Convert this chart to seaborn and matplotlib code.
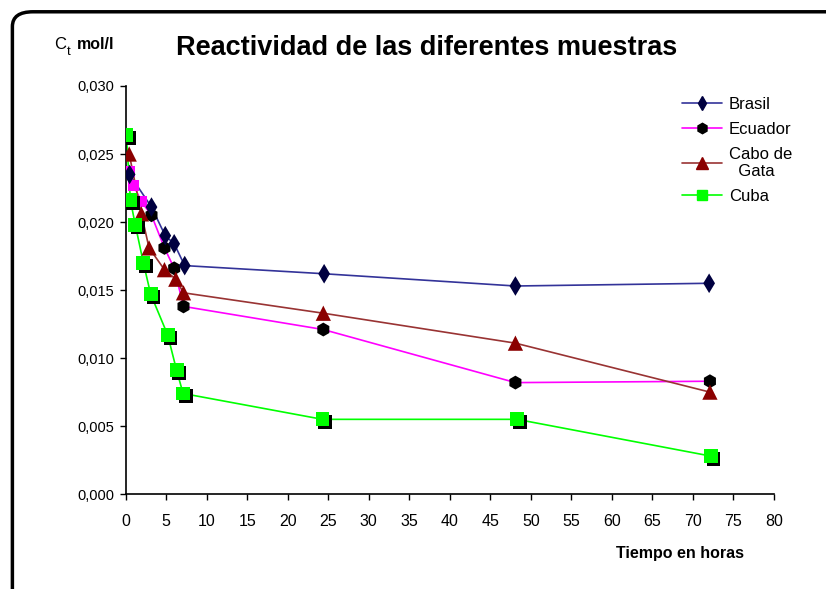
import numpy as np
import pandas as pd
import seaborn as sns
import matplotlib.pyplot as plt
import matplotlib.patheffects as pe
from matplotlib.patches import FancyBboxPatch
from matplotlib.ticker import FuncFormatter

# values (time in hours, concentration mol/l)
brasil_t = [0.5, 3.2, 4.9, 6.0, 7.3, 24.5, 48.1, 72.0]
brasil_c = [0.0235, 0.0211, 0.0190, 0.0184, 0.0168, 0.0162, 0.0153, 0.0155]

ecuador_t = [0.45, 1.0, 1.95, 3.2, 4.8, 6.0, 7.15, 24.4, 48.1, 72.1]
ecuador_c = [0.0237, 0.0227, 0.0215, 0.0205, 0.0181, 0.0166, 0.0138, 0.0121, 0.0082, 0.0083]
ecuador_n_square = 3  # first points drawn as pink squares in the original

cabo_t = [0.45, 1.95, 2.9, 4.8, 6.2, 7.15, 24.4, 48.1, 72.1]
cabo_c = [0.0250, 0.0206, 0.0181, 0.0165, 0.0158, 0.0148, 0.0133, 0.0111, 0.0075]

cuba_t = [0.1, 0.6, 1.2, 2.2, 3.1, 5.2, 6.3, 7.1, 24.3, 48.3, 72.2]
cuba_c = [0.0264, 0.0216, 0.0198, 0.0170, 0.0147, 0.0117, 0.0091, 0.0074, 0.0055, 0.0055, 0.0028]

labels = ["Brasil", "Ecuador", "Cabo de\n  Gata", "Cuba"]
x_ticks = list(range(0, 85, 5))
y_ticks = [0.0, 0.005, 0.010, 0.015, 0.020, 0.025, 0.030]

sns.set_style("white")
plt.rcParams['font.family'] = ['Liberation Sans', 'DejaVu Sans']
plt.rcParams['text.color'] = 'black'
plt.rcParams['xtick.color'] = 'black'
plt.rcParams['ytick.color'] = 'black'

fig = plt.figure(figsize=(8.26, 5.89), dpi=100)
ax = fig.add_axes([0.152, 0.161, 0.785, 0.693])

series = [
    (brasil_t, brasil_c, "#333399", "#000040", "d", 10),
    (ecuador_t, ecuador_c, "#ff00ff", "#000000", "h", 10),
    (cabo_t, cabo_c, "#993333", "#8b0000", "^", 11),
    (cuba_t, cuba_c, "#00ff00", "#00ff00", "s", 10),
]

shadow = [pe.withSimplePatchShadow(offset=(2, -2), shadow_rgbFace="black", alpha=1.0)]

handles = []
for (t, c, lc, mc, mk, ms), lab in zip(series, labels):
    df = pd.DataFrame({"t": t, "c": c})
    sns.lineplot(data=df, x="t", y="c", color=lc, lw=1.2, ax=ax, sort=False,
                 estimator=None)
    if mk == "h":
        sq = df.iloc[:ecuador_n_square]
        rest = df.iloc[ecuador_n_square:]
        sns.scatterplot(data=sq, x="t", y="c", marker="s", s=60, color="#ff00ff",
                        edgecolor="none", ax=ax, zorder=3)
        sns.scatterplot(data=rest, x="t", y="c", marker=mk, s=ms ** 2, color=mc,
                        edgecolor="none", ax=ax, zorder=3)
    else:
        sns.scatterplot(data=df, x="t", y="c", marker=mk, s=ms ** 2, color=mc,
                        edgecolor="none", ax=ax, zorder=4)
        if mk == "s":
            ax.collections[-1].set_path_effects(shadow)
    h, = ax.plot([], [], color=lc, lw=1.2, marker=mk, markersize=ms * 0.75,
                 markerfacecolor=mc, markeredgecolor=mc)
    handles.append(h)

ax.set_xlim(0, 80)
ax.set_ylim(0, 0.030)
ax.set_xticks(x_ticks)
ax.set_yticks(y_ticks)
ax.yaxis.set_major_formatter(FuncFormatter(lambda v, p: f"{v:.3f}".replace(".", ",")))
ax.tick_params(axis="both", direction="out", length=4, width=1,
               bottom=True, left=True)
ax.tick_params(axis="y", labelsize=10.5, pad=4)
ax.tick_params(axis="x", labelsize=11.5, pad=10)
ax.set_xlabel("")
ax.set_ylabel("")
sns.despine(ax=ax)
for s in ["left", "bottom"]:
    ax.spines[s].set_color("black")
    ax.spines[s].set_linewidth(1.2)

leg = ax.legend(handles, labels, loc="upper left", bbox_to_anchor=(0.835, 1.01),
                frameon=False, fontsize=12, handlelength=2.4, labelspacing=0.6,
                handletextpad=0.4)

fig.text(0.516, 0.918, "Reactividad de las diferentes muestras", ha="center",
         va="center", fontsize=19.5, fontweight="bold")
fig.text(0.065, 0.924, "C", fontsize=12, va="center", ha="left")
fig.text(0.081, 0.912, "t", fontsize=9.5, va="center", ha="left")
fig.text(0.093, 0.924, "mol/l", fontsize=11.5, fontweight="bold", va="center", ha="left")
fig.text(0.823, 0.061, "Tiempo en horas", fontsize=11.5, fontweight="bold",
         ha="center", va="center")

border = FancyBboxPatch((0.015, -0.05), 1.05, 1.03, transform=fig.transFigure,
                        boxstyle="round,pad=0,rounding_size=0.025",
                        fill=False, lw=2.5, edgecolor="black")
fig.patches.append(border)

fig.savefig("out.png", dpi=100)
